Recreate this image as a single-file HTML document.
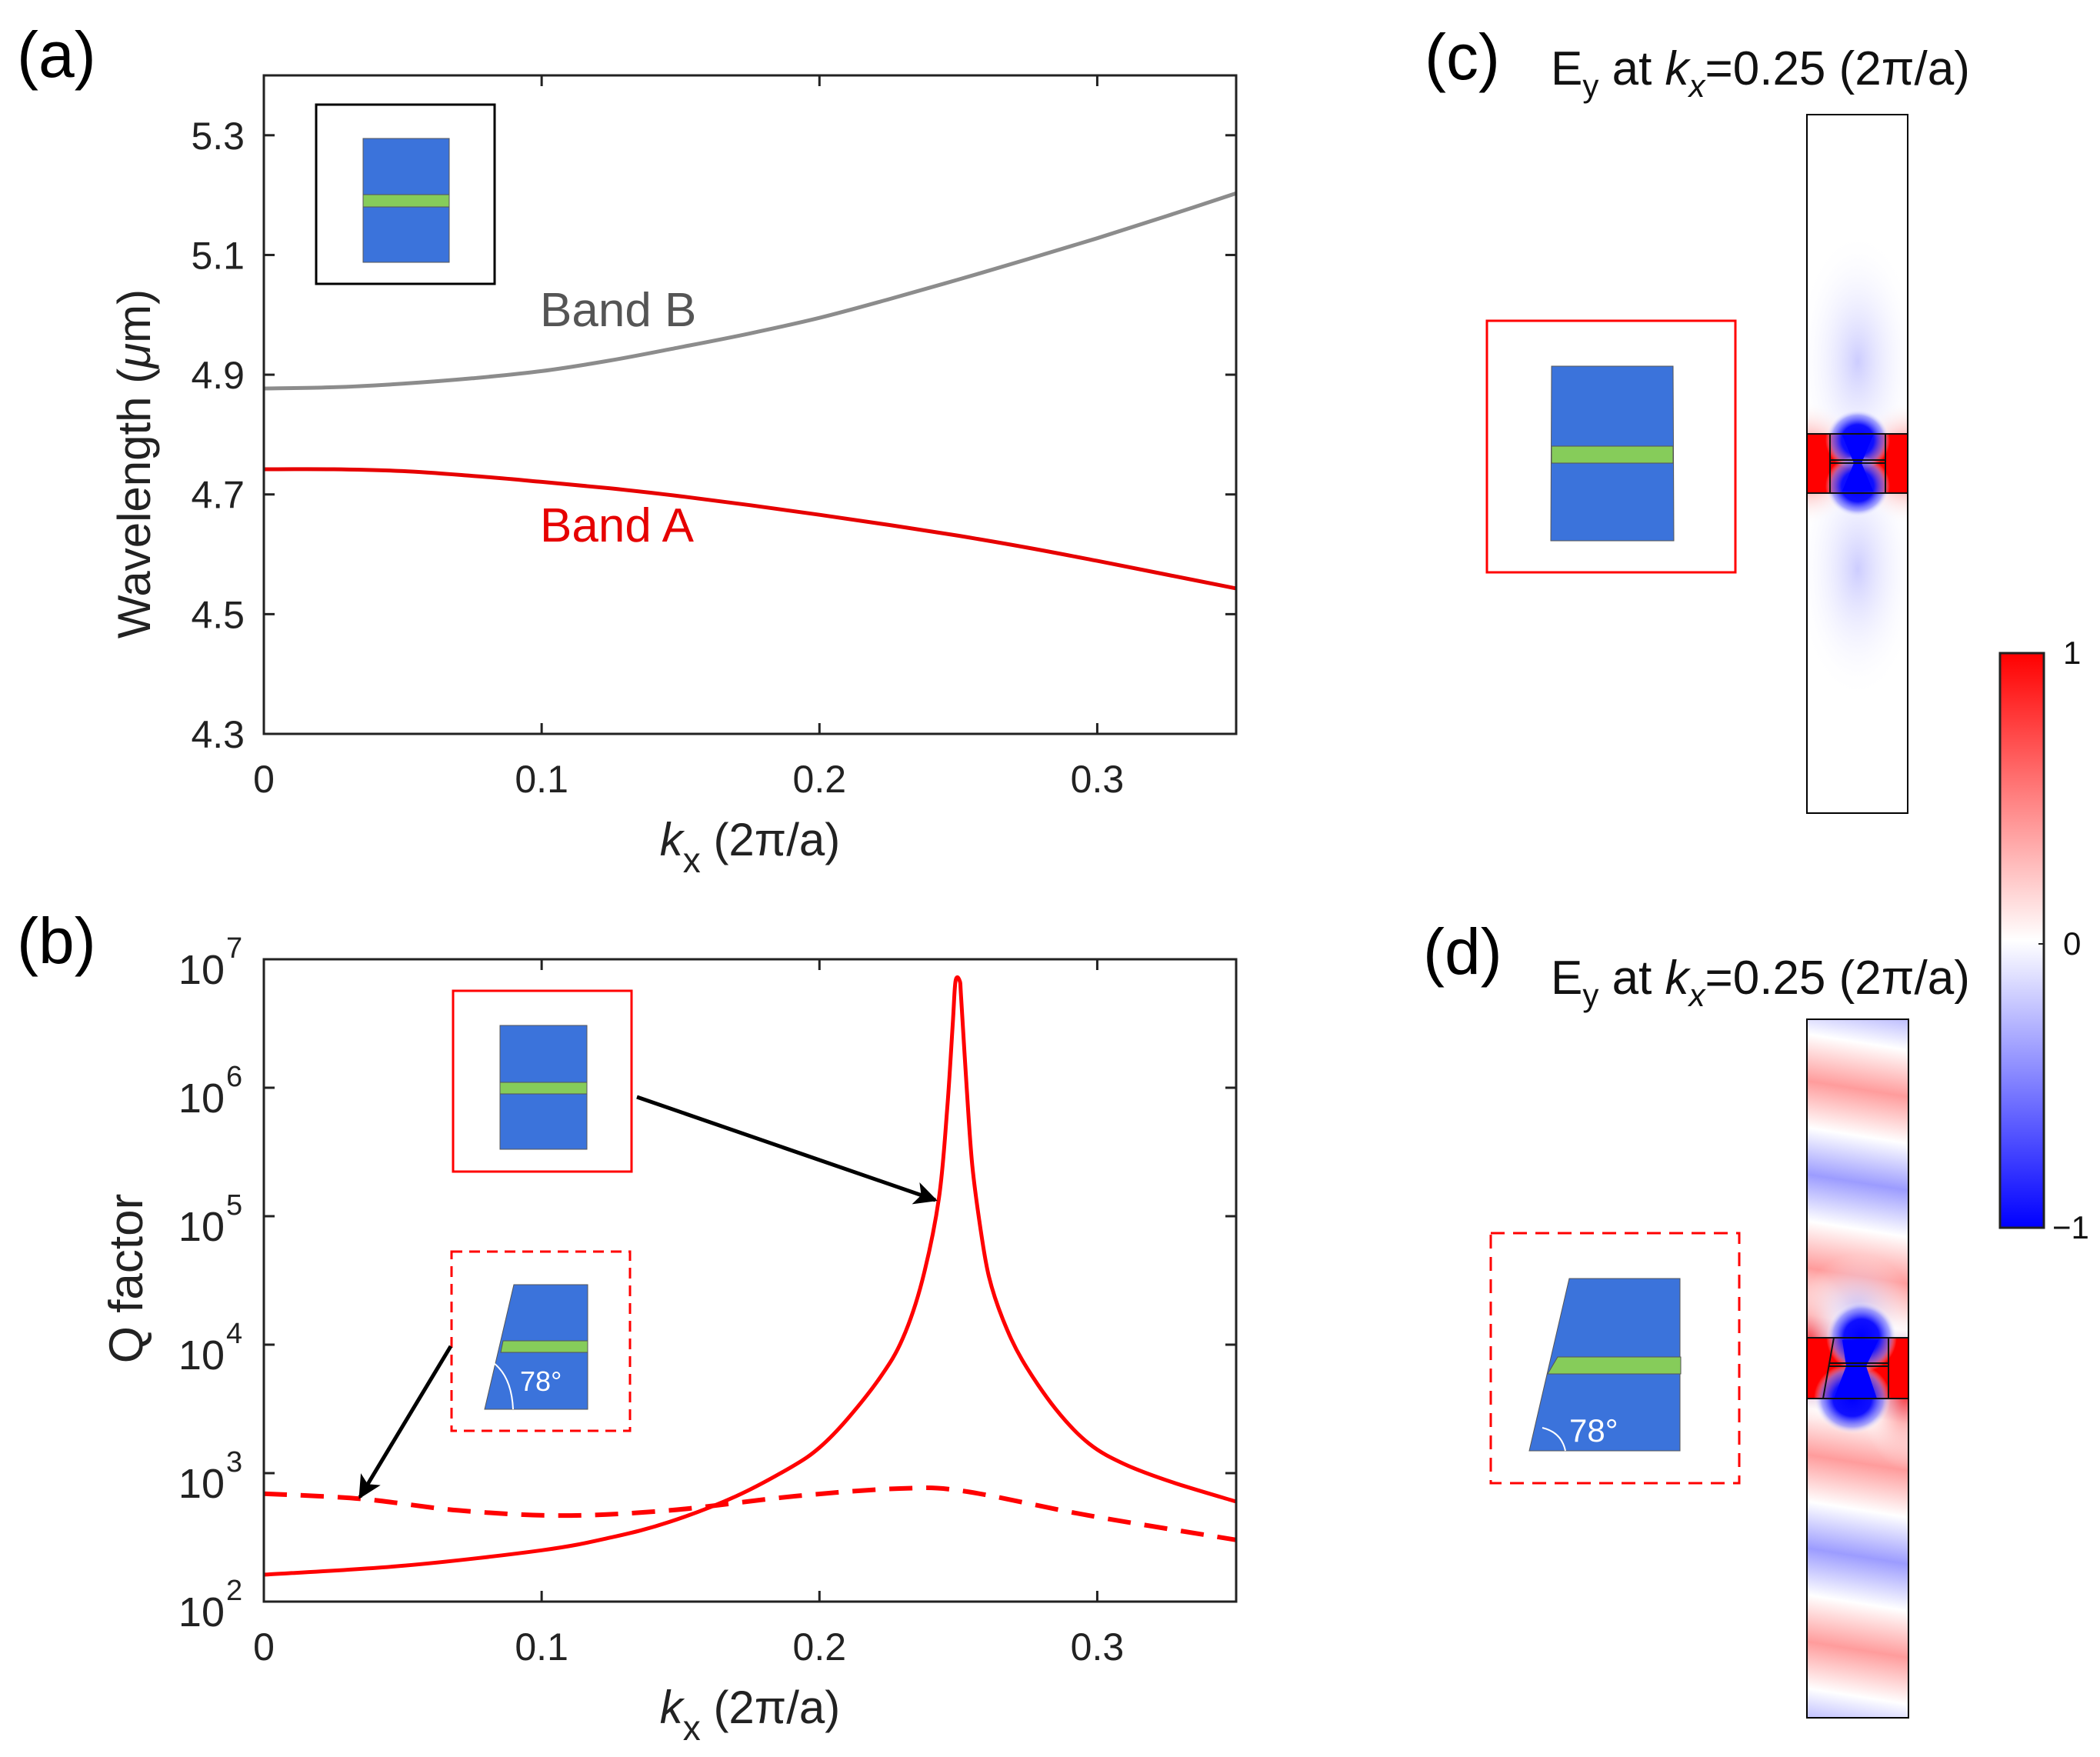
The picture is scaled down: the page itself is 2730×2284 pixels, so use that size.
<!DOCTYPE html>
<html><head><meta charset="utf-8"><style>
html,body{margin:0;padding:0;background:#fff}
svg{display:block;font-family:"Liberation Sans",Arial,sans-serif}
</style></head><body>
<svg id="fig" width="2730" height="2284" viewBox="0 0 2730 2284" xmlns="http://www.w3.org/2000/svg">
<defs>
<linearGradient id="cbar" x1="0" y1="0" x2="0" y2="1">
<stop offset="0" stop-color="#ff0000"/><stop offset="0.5" stop-color="#ffffff"/><stop offset="1" stop-color="#0000ff"/>
</linearGradient>
<radialGradient id="blueLobe"><stop offset="0" stop-color="#0000ff"/><stop offset="0.5" stop-color="#1010ff"/><stop offset="0.8" stop-color="#8080ff" stop-opacity="0.7"/><stop offset="1" stop-color="#ffffff" stop-opacity="0"/></radialGradient>
<radialGradient id="redLobe"><stop offset="0" stop-color="#ff2020" stop-opacity="0.95"/><stop offset="1" stop-color="#ffffff" stop-opacity="0"/></radialGradient>
<radialGradient id="faintBlue"><stop offset="0" stop-color="#c0c0ff" stop-opacity="0.8"/><stop offset="1" stop-color="#ffffff" stop-opacity="0"/></radialGradient>
<linearGradient id="stripes" gradientUnits="userSpaceOnUse" x1="0" y1="1300" x2="0" y2="1540" spreadMethod="repeat" gradientTransform="rotate(9 2415 1780)">
<stop offset="0" stop-color="#9c9cff"/><stop offset="0.25" stop-color="#ffffff"/><stop offset="0.5" stop-color="#ff9c9c"/><stop offset="0.75" stop-color="#ffffff"/><stop offset="1" stop-color="#9c9cff"/>
</linearGradient>
<clipPath id="clipD"><rect x="2349" y="1325" width="132" height="908"/></clipPath>
<clipPath id="clipC"><rect x="2349" y="149" width="131" height="908"/></clipPath>
<marker id="arrow" viewBox="0 0 10 10" refX="9" refY="5" markerWidth="44" markerHeight="30" orient="auto" markerUnits="userSpaceOnUse">
<path d="M0,0 L10,5 L0,10 L2.5,5 z" fill="#000"/></marker>
</defs>
<g id="root"></g>
</svg>
<script>
// ---------- data ----------
const kBand = [0,0.025,0.05,0.075,0.1,0.125,0.15,0.175,0.2,0.225,0.25,0.275,0.3,0.325,0.35];
const bandB = [4.877,4.879,4.885,4.894,4.906,4.924,4.946,4.969,4.995,5.026,5.059,5.093,5.128,5.165,5.203];
const bandA = [4.742,4.742,4.739,4.731,4.721,4.710,4.697,4.682,4.666,4.649,4.631,4.611,4.589,4.566,4.543];
const kSolid = [0,0.05,0.1,0.125,0.146,0.17,0.19,0.2,0.21,0.222,0.23,0.237,0.243,0.246,0.248,0.249,0.2505,0.251,0.253,0.255,0.258,0.261,0.266,0.273,0.285,0.297,0.31,0.327,0.35];
const qSolid = [162,190,251,316,417,661,1120,1580,2630,5620,11200,31600,138000,692000,3160000,6760000,6760000,5000000,1000000,251000,79400,33900,15800,7590,3160,1700,1170,850,600];
const kDash = [0,0.035,0.07,0.107,0.146,0.191,0.229,0.252,0.297,0.35];
const qDash = [692,631,513,468,513,661,759,724,468,302];
const xTicks = [0,0.1,0.2,0.3];
const xTickLabels = ["0","0.1","0.2","0.3"];
const yTicksA = [4.3,4.5,4.7,4.9,5.1,5.3];
const yTickLabelsA = ["4.3","4.5","4.7","4.9","5.1","5.3"];
const yExpB = [2,3,4,5,6,7];

const NS="http://www.w3.org/2000/svg";
const root=document.getElementById('root');
function mk(tag,attrs,parent){const e=document.createElementNS(NS,tag);for(const k in attrs)e.setAttribute(k,attrs[k]);(parent||root).appendChild(e);return e;}

const L=343,R=1607;
const xS=k=>L+(k/0.35)*(R-L);
const aT=98,aB=954;
const yA=v=>aB-(v-4.3)/1.1*(aB-aT);
const bT=1247,bB=2082;
const yB=q=>bB-(Math.log10(q)-2)/5*(bB-bT);

function smoothPath(xs,ys,fx,fy){
  const p=xs.map((x,i)=>[fx(x),fy(ys[i])]);
  let d='M'+p[0][0].toFixed(1)+','+p[0][1].toFixed(1);
  for(let i=0;i<p.length-1;i++){
    const p0=p[Math.max(0,i-1)],p1=p[i],p2=p[i+1],p3=p[Math.min(p.length-1,i+2)];
    const c1=[p1[0]+(p2[0]-p0[0])/6,p1[1]+(p2[1]-p0[1])/6];
    const c2=[p2[0]-(p3[0]-p1[0])/6,p2[1]-(p3[1]-p1[1])/6];
    d+=` C${c1[0].toFixed(1)},${c1[1].toFixed(1)} ${c2[0].toFixed(1)},${c2[1].toFixed(1)} ${p2[0].toFixed(1)},${p2[1].toFixed(1)}`;
  }
  return d;
}

// ---------- panel (a) ----------
let t=mk('text',{x:22,y:100,'font-size':84});t.textContent='(a)';



let g=mk('g',{});



let inset=mk('g',{},g);


mk('rect',{x:411,y:136,width:232,height:233,fill:'#fff',stroke:'#000','stroke-width':3},inset);
mk('rect',{x:472,y:180,width:112,height:161,fill:'#3b73db',stroke:'#555','stroke-width':1},inset);
mk('rect',{x:472,y:253,width:112,height:16,fill:'#86cc5a',stroke:'#555','stroke-width':1},inset);

let pB=mk('path',{d:smoothPath(kBand,bandB,xS,yA),fill:'none',stroke:'#8c8c8c','stroke-width':5},g);


let pA=mk('path',{d:smoothPath(kBand,bandA,xS,yA),fill:'none',stroke:'#e60000','stroke-width':5},g);



t=mk('text',{x:702,y:424,'font-size':62,fill:'#555'},g);t.textContent='Band B';


t=mk('text',{x:702,y:704,'font-size':62,fill:'#e60000'},g);t.textContent='Band A';



function drawAxes(gp,top,bot,name){
  let fr=mk('rect',{x:L,y:top,width:R-L,height:bot-top,fill:'none',stroke:'#222','stroke-width':3},gp);
  
  
  xTicks.forEach((k,i)=>{
    const x=xS(k);
    mk('line',{x1:x,y1:bot,x2:x,y2:bot-14,stroke:'#222','stroke-width':3},gp);
    mk('line',{x1:x,y1:top,x2:x,y2:top+14,stroke:'#222','stroke-width':3},gp);
    const tl=mk('text',{x:x,y:bot+76,'font-size':50,'text-anchor':'middle',fill:'#222'},gp);
    tl.textContent=xTickLabels[i];
    
    
  });
  const xl=mk('text',{x:975,y:bot+158,'font-size':60,'text-anchor':'middle',fill:'#222'},gp);
  xl.innerHTML='<tspan font-style="italic">k</tspan><tspan font-size="46" dy="22">x</tspan><tspan dy="-22"> (2π/a)</tspan>';
  
  
}
drawAxes(g,aT,aB,'wavelength');
yTicksA.forEach((v,i)=>{
  const y=yA(v);
  mk('line',{x1:L,y1:y,x2:L+14,y2:y,stroke:'#222','stroke-width':3},g);
  mk('line',{x1:R,y1:y,x2:R-14,y2:y,stroke:'#222','stroke-width':3},g);
  const tl=mk('text',{x:318,y:y+18,'font-size':50,'text-anchor':'end',fill:'#222'},g);
  tl.textContent=yTickLabelsA[i];
  
  
});
t=mk('text',{x:0,y:0,'font-size':60,'text-anchor':'middle',fill:'#222',transform:'translate(195,603) rotate(-90)'},g);
t.innerHTML='Wavelength (<tspan font-style="italic">μ</tspan>m)';



// ---------- panel (b) ----------
t=mk('text',{x:22,y:1252,'font-size':84});t.textContent='(b)';



let g2=mk('g',{});


let ps=mk('path',{d:smoothPath(kSolid,qSolid,xS,yB),fill:'none',stroke:'#ff0000','stroke-width':5,'stroke-linejoin':'round'},g2);


let pd=mk('path',{d:smoothPath(kDash,qDash,xS,yB),fill:'none',stroke:'#ff0000','stroke-width':6,'stroke-dasharray':'30 18'},g2);


drawAxes(g2,bT,bB,'qfactor');
yExpB.forEach(e=>{
  const y=yB(Math.pow(10,e));
  mk('line',{x1:L,y1:y,x2:L+14,y2:y,stroke:'#222','stroke-width':3},g2);
  mk('line',{x1:R,y1:y,x2:R-14,y2:y,stroke:'#222','stroke-width':3},g2);
  const tl=mk('text',{x:292,y:y+32,'font-size':54,'text-anchor':'end',fill:'#222'},g2);
  tl.textContent='10';
  
  
  const te=mk('text',{x:294,y:y-2,'font-size':38,'text-anchor':'start',fill:'#222'},g2);
  te.textContent=String(e);
  
  
});
t=mk('text',{x:0,y:0,'font-size':62,'text-anchor':'middle',fill:'#222',transform:'translate(185,1662) rotate(-90)'},g2);
t.textContent='Q factor';



let ib=mk('g',{},g2);


mk('rect',{x:589,y:1288,width:232,height:235,fill:'#fff',stroke:'#ff0000','stroke-width':3},ib);
mk('rect',{x:650,y:1333,width:113,height:161,fill:'#3b73db',stroke:'#555','stroke-width':1},ib);
mk('rect',{x:650,y:1407,width:113,height:15,fill:'#86cc5a',stroke:'#555','stroke-width':1},ib);
let ar=mk('line',{x1:828,y1:1426,x2:1216,y2:1560,stroke:'#000','stroke-width':5,'marker-end':'url(#arrow)'},g2);



let id=mk('g',{},g2);


mk('rect',{x:587,y:1627,width:232,height:233,fill:'#fff',stroke:'#ff0000','stroke-width':3,'stroke-dasharray':'14 9'},id);
mk('polygon',{points:'668,1670 764,1670 764,1832 630,1832',fill:'#3b73db',stroke:'#555','stroke-width':1},id);
mk('polygon',{points:'654,1743 764,1743 764,1758 651,1758',fill:'#86cc5a',stroke:'#555','stroke-width':1},id);
mk('path',{d:'M642,1772 Q665,1790 667,1832',fill:'none',stroke:'#fff','stroke-width':2},id);
t=mk('text',{x:676,y:1808,'font-size':36,fill:'#fff'},id);t.textContent='78°';


ar=mk('line',{x1:586,y1:1750,x2:468,y2:1946,stroke:'#000','stroke-width':5,'marker-end':'url(#arrow)'},g2);



// ---------- panel (c) ----------
function title(y,name){
  const tt=mk('text',{x:2016,y:y,'font-size':62,fill:'#111'});
  tt.innerHTML='E<tspan font-size="42" dy="16">y</tspan><tspan dy="-16"> at </tspan><tspan font-style="italic">k</tspan><tspan font-size="42" font-style="italic" dy="16">x</tspan><tspan dy="-16">=0.25 (2π/a)</tspan>';
  
  
}
t=mk('text',{x:1852,y:103,'font-size':84});t.textContent='(c)';


title(110,'panel-c-title');

let ic=mk('g',{});


mk('rect',{x:1933,y:417,width:323,height:327,fill:'#fff',stroke:'#ff0000','stroke-width':3},ic);
mk('polygon',{points:'2017,476 2175,476 2176,703 2016,703',fill:'#3b73db',stroke:'#555','stroke-width':1},ic);
mk('rect',{x:2017,y:580,width:158,height:22,fill:'#86cc5a',stroke:'#555','stroke-width':1},ic);

let fc=mk('g',{'clip-path':'url(#clipC)'});


mk('rect',{x:2349,y:149,width:131,height:908,fill:'#fff'},fc);
mk('ellipse',{cx:2415,cy:470,rx:80,ry:170,fill:'url(#faintBlue)'},fc);
mk('ellipse',{cx:2415,cy:740,rx:80,ry:170,fill:'url(#faintBlue)'},fc);
mk('ellipse',{cx:2350,cy:602,rx:70,ry:80,fill:'url(#redLobe)'},fc);
mk('ellipse',{cx:2480,cy:602,rx:70,ry:80,fill:'url(#redLobe)'},fc);
mk('rect',{x:2349,y:564,width:131,height:77,fill:'#ff0000'},fc);
mk('ellipse',{cx:2415,cy:572,rx:42,ry:40,fill:'url(#blueLobe)'},fc);
mk('ellipse',{cx:2415,cy:632,rx:42,ry:40,fill:'url(#blueLobe)'},fc);
mk('polygon',{points:'2395,566 2435,566 2420,602 2435,638 2395,638 2410,602',fill:'#0000ff'},fc);
mk('path',{d:'M2349,564 H2480 M2349,641 H2480 M2379,564 V641 M2451,564 V641 M2379,602 H2451 M2379,598 H2451',stroke:'#111','stroke-width':2,fill:'none'},fc);
mk('rect',{x:2349,y:149,width:131,height:908,fill:'none',stroke:'#000','stroke-width':2});

// colorbar
let cb=mk('g',{});


mk('rect',{x:2600,y:849,width:57,height:747,fill:'url(#cbar)',stroke:'#222','stroke-width':3},cb);
[[849,'1',2682],[1227,'0',2682],[1596,'−1',2668]].forEach(a=>{
  mk('line',{x1:2650,y1:a[0],x2:2657,y2:a[0],stroke:'#222','stroke-width':2},cb);
  const tl=mk('text',{x:a[2],y:a[0]+14,'font-size':42,fill:'#111'},cb);
  tl.textContent=a[1];
  
  
});

// ---------- panel (d) ----------
t=mk('text',{x:1850,y:1266,'font-size':84});t.textContent='(d)';


title(1292,'panel-d-title');

let idd=mk('g',{});


mk('rect',{x:1938,y:1603,width:323,height:325,fill:'#fff',stroke:'#ff0000','stroke-width':3,'stroke-dasharray':'18 11'},idd);
mk('polygon',{points:'2040,1662 2184,1662 2184,1886 1988,1886',fill:'#3b73db',stroke:'#555','stroke-width':1},idd);
mk('polygon',{points:'2025,1764 2185,1764 2185,1786 2012,1786',fill:'#86cc5a',stroke:'#555','stroke-width':1},idd);
mk('path',{d:'M2005,1856 Q2030,1862 2035,1886',fill:'none',stroke:'#fff','stroke-width':2},idd);
t=mk('text',{x:2040,y:1874,'font-size':42,fill:'#fff'},idd);t.textContent='78°';



let fd=mk('g',{'clip-path':'url(#clipD)'});


mk('rect',{x:2300,y:1300,width:240,height:960,fill:'url(#stripes)'},fd);
mk('ellipse',{cx:2352,cy:1750,rx:60,ry:100,fill:'url(#redLobe)'},fd);
mk('ellipse',{cx:2478,cy:1810,rx:60,ry:100,fill:'url(#redLobe)'},fd);
mk('ellipse',{cx:2415,cy:1700,rx:70,ry:70,fill:'url(#faintBlue)'},fd);
mk('rect',{x:2349,y:1739,width:132,height:79,fill:'#ff0000'},fd);
mk('ellipse',{cx:2420,cy:1738,rx:46,ry:46,fill:'url(#blueLobe)'},fd);
mk('ellipse',{cx:2408,cy:1818,rx:50,ry:46,fill:'url(#blueLobe)'},fd);
mk('polygon',{points:'2395,1742 2442,1742 2426,1776 2440,1818 2384,1818 2400,1776',fill:'#0000ff'},fd);
mk('path',{d:'M2349,1739 H2481 M2349,1818 H2481 M2370,1818 L2384,1739 M2455,1739 V1818 M2378,1776 H2455 M2378,1772 H2455',stroke:'#111','stroke-width':2,fill:'none'},fd);
mk('rect',{x:2349,y:1325,width:132,height:908,fill:'none',stroke:'#000','stroke-width':2});
</script>
</body></html>
